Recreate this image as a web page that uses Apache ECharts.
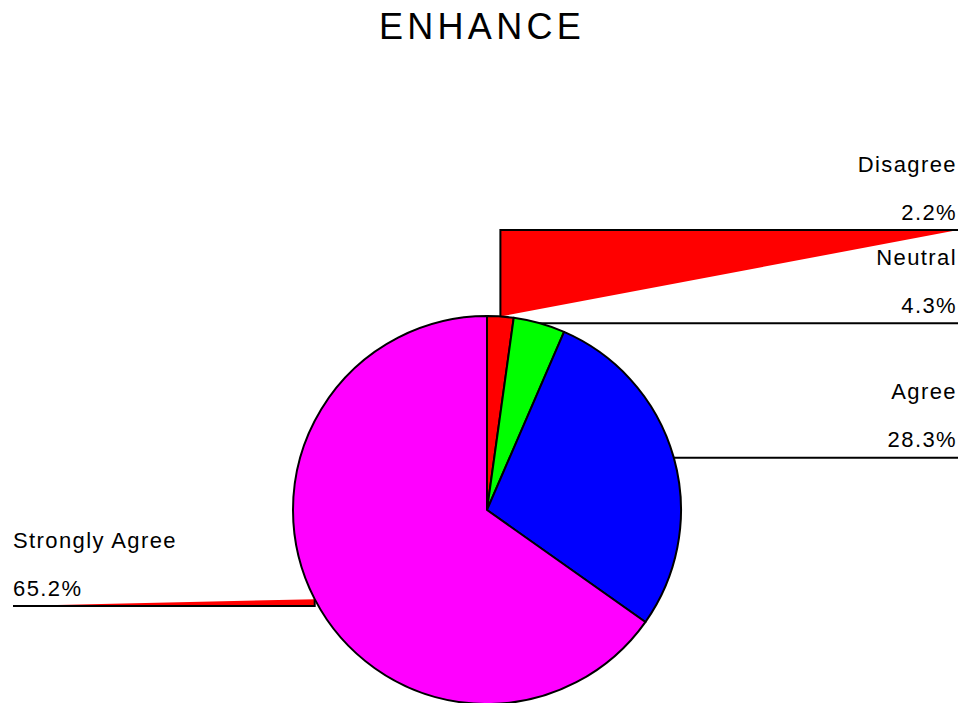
<!DOCTYPE html>
<html>
<head>
<meta charset="utf-8">
<title>ENHANCE</title>
<script src="https://cdn.jsdelivr.net/npm/echarts@6/dist/echarts.min.js"></script>
<style>
  html, body { margin: 0; padding: 0; background: #ffffff; }
  #chart { width: 964px; height: 703px; }
</style>
</head>
<body>
<div id="chart"></div>
<script>
// Survey responses for the "ENHANCE" item, in percent
const titleText = 'ENHANCE';
const categories = ['Disagree', 'Neutral', 'Agree', 'Strongly Agree'];
const percents = [2.2, 4.3, 28.3, 65.2];
const sliceColors = ['#ff0000', '#00ff00', '#0000ff', '#ff00ff'];

// Leader layout: which side each label sits on, and the height of the
// horizontal leader (null = straight out from the slice edge)
const labelSide = ['right', 'right', 'right', 'left'];
const leaderY = [230, null, null, 606];
const leaderRightX = 958;
const leaderLeftX = 13;

const FONT = '"Liberation Sans", Arial, Helvetica, sans-serif';
const TITLE_SIZE = 36;
const LABEL_SIZE = 22;
const chartDom = document.getElementById('chart');
const chart = echarts.init(chartDom, null, { renderer: 'svg' });

// Leader polylines collected during label layout; reused for the red fills
const guides = [];

function layoutLabel(params) {
  const i = params.dataIndex;
  const p0 = params.labelLinePoints[0];
  const y = leaderY[i] != null ? leaderY[i] : p0[1];
  const right = labelSide[i] === 'right';
  const endX = right ? leaderRightX : leaderLeftX;
  const pts = [[p0[0], p0[1]], [p0[0], y], [endX, y]];
  guides[i] = pts;
  return {
    x: right ? endX - 1 : endX,
    y: y + 6,
    align: right ? 'right' : 'left',
    verticalAlign: 'bottom',
    labelLinePoints: pts
  };
}

const pieData = categories.map((name, i) => ({
  name: name,
  value: percents[i],
  itemStyle: { color: sliceColors[i] }
}));

const option = {
  animation: false,
  backgroundColor: '#ffffff',
  title: {
    text: titleText,
    left: 'center',
    top: 3,
    textStyle: { fontFamily: FONT, fontSize: TITLE_SIZE, fontWeight: 'normal', color: '#000000' }
  },
  series: [{
    type: 'pie',
    center: [487, 510],
    radius: 194,
    startAngle: 90,
    clockwise: true,
    avoidLabelOverlap: false,
    itemStyle: { borderColor: '#000000', borderWidth: 2 },
    emphasis: { disabled: true },
    label: {
      show: true,
      position: 'outside',
      formatter: p => p.name + '\n' + p.value.toFixed(1) + '%',
      fontFamily: FONT,
      fontSize: LABEL_SIZE,
      color: '#000000',
      lineHeight: 48
    },
    labelLine: {
      show: true,
      lineStyle: { color: '#000000', width: 2 }
    },
    labelLayout: layoutLabel,
    data: pieData
  }]
};

chart.setOption(option);

// Red fills under the elbowed leaders, built from the laid-out leader points
chart.setOption({
  graphic: guides.map(pts => ({
    type: 'polygon',
    z: 1,
    silent: true,
    shape: { points: pts.map(p => p.slice()) },
    style: { fill: '#ff0000', stroke: null }
  }))
});

// Wider tracking on the lettering
function spaceLetters() {
  chartDom.querySelectorAll('text').forEach(t => {
    const fs = parseFloat(getComputedStyle(t).fontSize);
    t.style.letterSpacing = fs >= 30 ? '4.3px' : '1.4px';
  });
}
spaceLetters();
chart.on('finished', spaceLetters);
</script>
</body>
</html>
